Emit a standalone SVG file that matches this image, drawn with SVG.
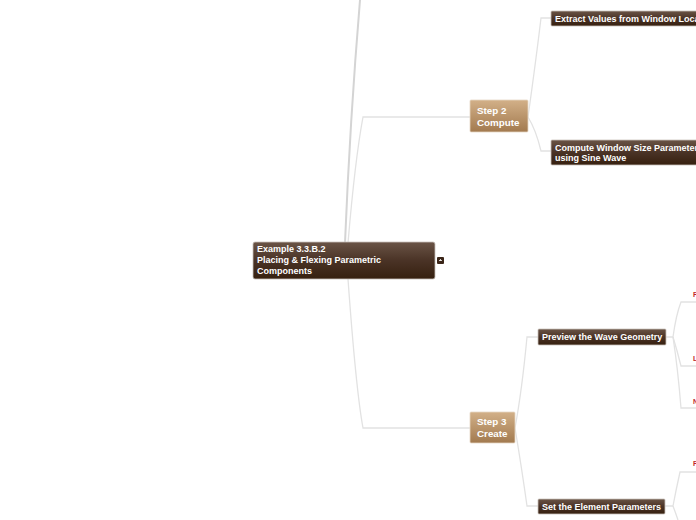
<svg xmlns="http://www.w3.org/2000/svg" width="696" height="520" viewBox="0 0 696 520">
<defs>
<linearGradient id="dark" x1="0" y1="0" x2="0" y2="1">
<stop offset="0" stop-color="#6a5446"/>
<stop offset="0.5" stop-color="#4a3326"/>
<stop offset="1" stop-color="#36200f"/>
</linearGradient>
<linearGradient id="tan" x1="0" y1="0" x2="0" y2="1">
<stop offset="0" stop-color="#d2b088"/>
<stop offset="1" stop-color="#a27a4f"/>
</linearGradient>
<style>
.conn{fill:none;stroke:#e2e2e2;stroke-width:1.3}
.trunk{fill:none;stroke:#d4d4d4;stroke-width:2}
.dk{fill:url(#dark);stroke:#c9c1bb;stroke-width:0.8}
.tn{fill:url(#tan);stroke:#e6d7c4;stroke-width:0.8}
.t{font-family:"Liberation Sans",Arial,sans-serif;font-weight:bold;font-size:9px;fill:#ffffff}
.s{font-size:9.8px}
.r{font-family:"Liberation Sans",Arial,sans-serif;font-weight:bold;font-size:7px;fill:#c0282d}
</style>
</defs>
<rect width="696" height="520" fill="#ffffff"/>
<g id="connectors">
<path class="trunk" d="M345 243 Q350 120 360 0"/>
<path class="conn" d="M348 243 Q355 160 363 117 L470 117"/>
<path class="conn" d="M348 279 Q356 390 363 428 L470 428"/>
<path class="conn" d="M528 117 Q536 60 541 18 L551 18"/>
<path class="conn" d="M528 117 Q536 130 541 151 L551 151"/>
<path class="conn" d="M515 428 Q522 390 527 337 L538 337"/>
<path class="conn" d="M515 428 Q522 470 527 506 L538 506"/>
<path class="conn" d="M666 337 L673 337 Q676 315 681 302 L696 302"/>
<path class="conn" d="M673 337 Q677 350 681 366 L696 366"/>
<path class="conn" d="M673 337 Q678 370 681 408 L696 408"/>
<path class="conn" d="M665 506 L673 506 Q676 490 680 472 L696 472"/>
<path class="conn" d="M673 506 Q676 514 678 520"/>
</g>
<g id="center">
<rect class="dk" x="253" y="242" width="182" height="37" rx="2"/>
<text class="t" x="257" y="252">Example 3.3.B.2</text>
<text class="t" x="257" y="263">Placing &amp; Flexing Parametric</text>
<text class="t" x="257" y="274">Components</text>
<rect x="437" y="257" width="7" height="7" rx="1" fill="#3b2619"/>
<path d="M439 260.5 L442 260.5 M440.5 259 L440.5 260.5" stroke="#ffffff" stroke-width="0.8"/>
</g>
<g id="step2">
<rect class="tn" x="470" y="100" width="58" height="32" rx="1"/>
<text class="t s" x="477" y="114">Step 2</text>
<text class="t s" x="477" y="126">Compute</text>
</g>
<g id="step3">
<rect class="tn" x="470" y="412" width="45" height="31" rx="1"/>
<text class="t s" x="477" y="425">Step 3</text>
<text class="t s" x="477" y="437">Create</text>
</g>
<g id="extract">
<rect class="dk" x="551" y="11" width="150" height="15" rx="1"/>
<text class="t" x="555" y="21.5">Extract Values from Window Location</text>
</g>
<g id="computesize">
<rect class="dk" x="551" y="140" width="150" height="25" rx="1"/>
<text class="t" x="555" y="150.5">Compute Window Size Parameters</text>
<text class="t" x="555" y="161">using Sine Wave</text>
</g>
<g id="preview">
<rect class="dk" x="538" y="329" width="128" height="16" rx="1"/>
<text class="t" x="542" y="340">Preview the Wave Geometry</text>
</g>
<g id="setparams">
<rect class="dk" x="538" y="499" width="127" height="15" rx="1"/>
<text class="t" x="542" y="509.5">Set the Element Parameters</text>
</g>
<g id="leaves">
<text class="r" x="693" y="297">F</text>
<text class="r" x="693" y="361">L</text>
<text class="r" x="693" y="404">N</text>
<text class="r" x="693" y="466">F</text>
</g>
</svg>
